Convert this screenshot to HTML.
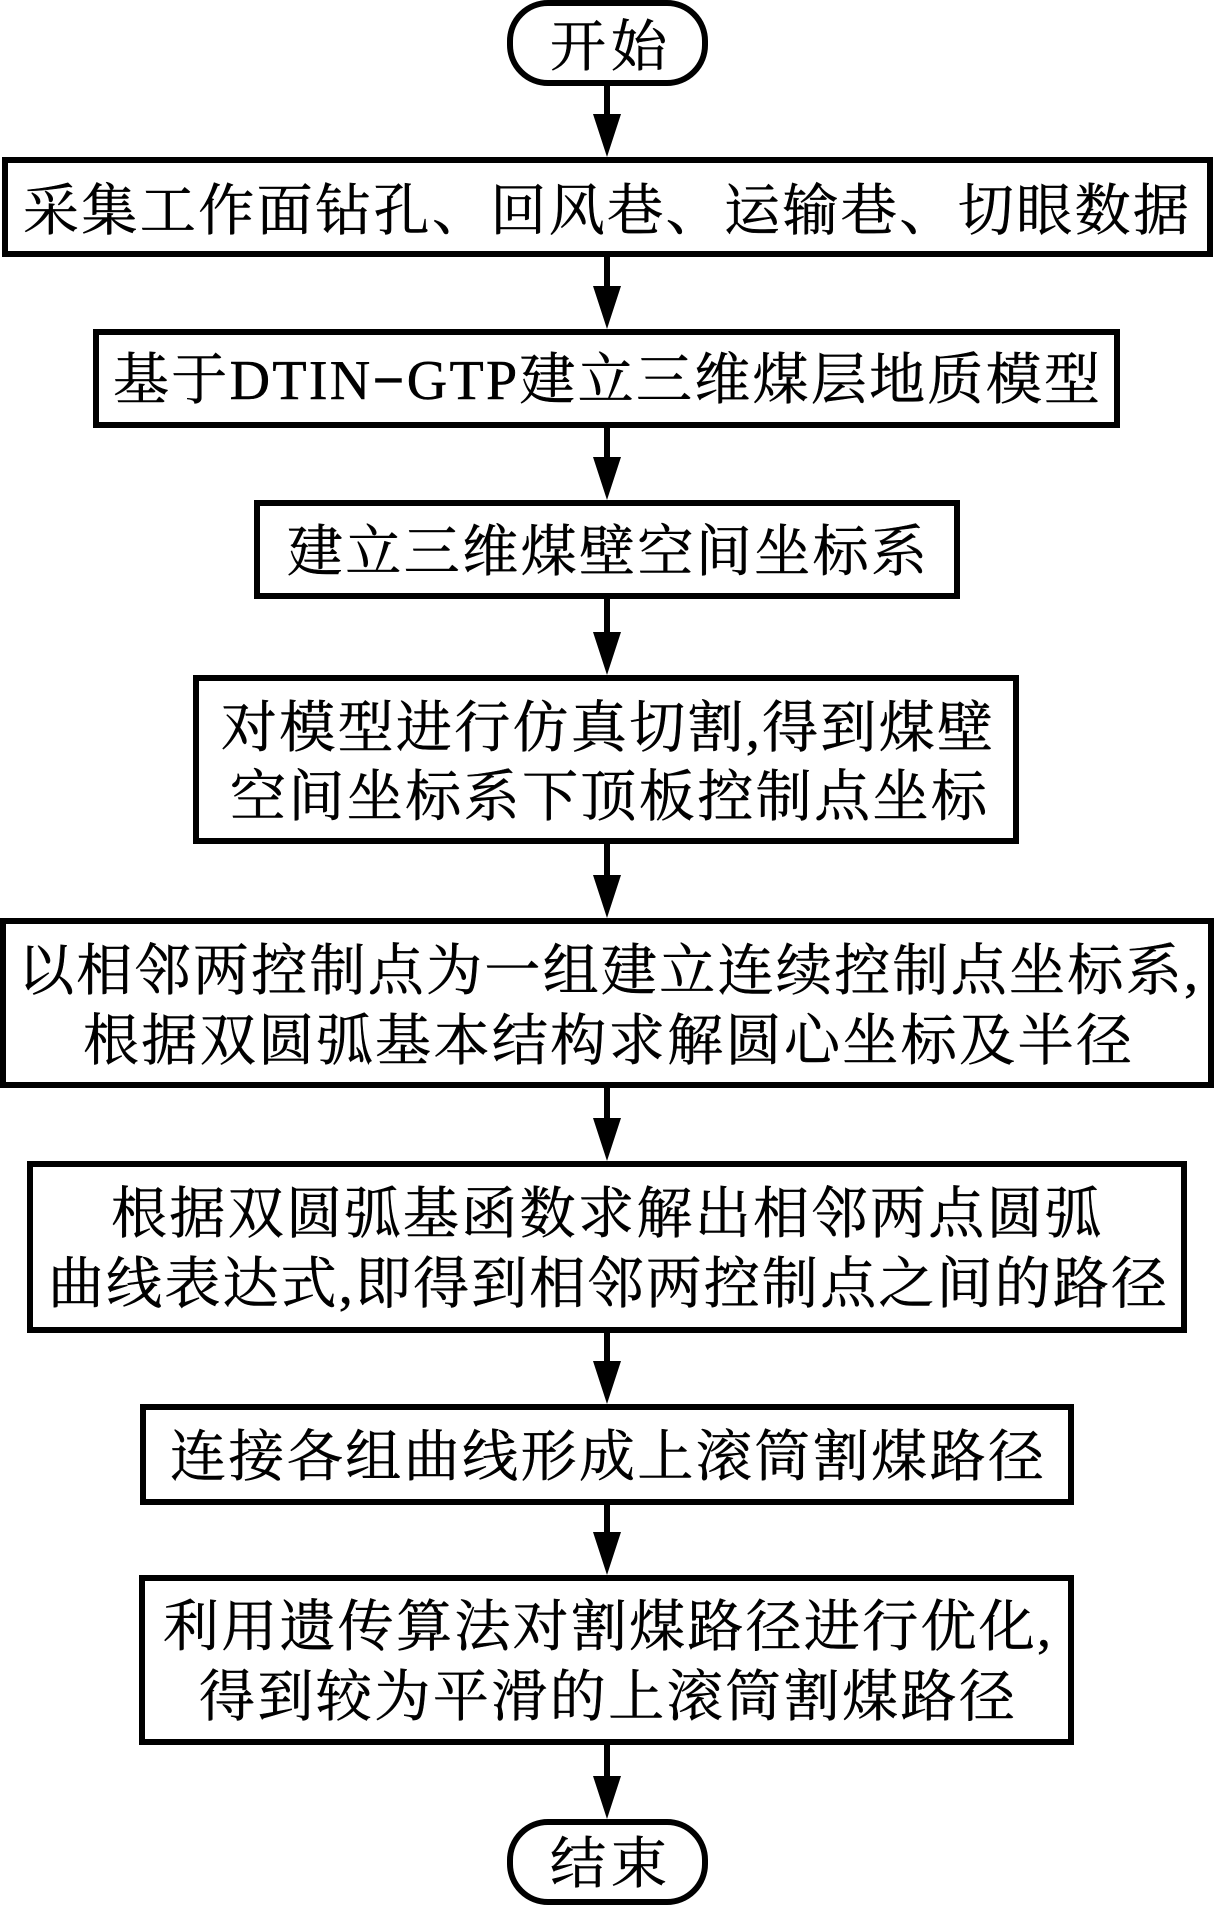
<!DOCTYPE html>
<html lang="zh"><head><meta charset="utf-8"><style>
html,body{margin:0;padding:0;background:#fff}
svg{display:block}
text{font-family:"Liberation Serif","Noto Serif CJK SC",serif;font-size:56px;fill:#000;stroke:#000;stroke-width:.5px}
.b{fill:#fff;stroke:#000;stroke-width:6}
</style></head><body>
<svg width="1214" height="1905" viewBox="0 0 1214 1905" xmlns="http://www.w3.org/2000/svg">
<defs><g id="a"><path d="M593 -43H621L607 0Z" fill="#000"/></g></defs>
<g fill="#000">
<rect x="604" y="85" width="6" height="40"/><use href="#a" y="157"/>
<rect x="604" y="257" width="6" height="40"/><use href="#a" y="329"/>
<rect x="604" y="428" width="6" height="40"/><use href="#a" y="500"/>
<rect x="604" y="599" width="6" height="40"/><use href="#a" y="675"/>
<rect x="604" y="844" width="6" height="40"/><use href="#a" y="918"/>
<rect x="604" y="1088" width="6" height="40"/><use href="#a" y="1161"/>
<rect x="604" y="1333" width="6" height="40"/><use href="#a" y="1404"/>
<rect x="604" y="1505" width="6" height="40"/><use href="#a" y="1575"/>
<rect x="604" y="1745" width="6" height="40"/><use href="#a" y="1819"/>
</g>
<rect class="b" x="510" y="3" width="195" height="80" rx="38" ry="38"/>
<rect class="b" x="5" y="160" width="1205" height="94"/>
<rect class="b" x="96" y="332" width="1021" height="93"/>
<rect class="b" x="257" y="503" width="700" height="93"/>
<rect class="b" x="196" y="678" width="820" height="163"/>
<rect class="b" x="3" y="921" width="1208" height="164"/>
<rect class="b" x="30" y="1164" width="1154" height="166"/>
<rect class="b" x="143" y="1407" width="928" height="95"/>
<rect class="b" x="142" y="1578" width="929" height="164"/>
<rect class="b" x="510" y="1822" width="195" height="80" rx="38" ry="38"/>
<text x="550" y="66" textLength="117">开始</text>
<text x="23" y="230" textLength="1166">采集工作面钻孔、回风巷、运输巷、切眼数据</text>
<text x="113" y="399" textLength="987">基于DTIN<tspan font-weight="bold">−</tspan>GTP建立三维煤层地质模型</text>
<text x="287" y="571" textLength="640">建立三维煤壁空间坐标系</text>
<text x="221" y="747" textLength="772">对模型进行仿真切割,得到煤壁</text>
<text x="230" y="816" textLength="757">空间坐标系下顶板控制点坐标</text>
<text x="18" y="990" textLength="1180">以相邻两控制点为一组建立连续控制点坐标系,</text>
<text x="83" y="1060" textLength="1049">根据双圆弧基本结构求解圆心坐标及半径</text>
<text x="111" y="1233" textLength="990">根据双圆弧基函数求解出相邻两点圆弧</text>
<text x="48" y="1303" textLength="1119">曲线表达式,即得到相邻两控制点之间的路径</text>
<text x="170" y="1476" textLength="874">连接各组曲线形成上滚筒割煤路径</text>
<text x="163" y="1646" textLength="888">利用遗传算法对割煤路径进行优化,</text>
<text x="199" y="1716" textLength="816">得到较为平滑的上滚筒割煤路径</text>
<text x="550" y="1883" textLength="117">结束</text>
</svg>
</body></html>
